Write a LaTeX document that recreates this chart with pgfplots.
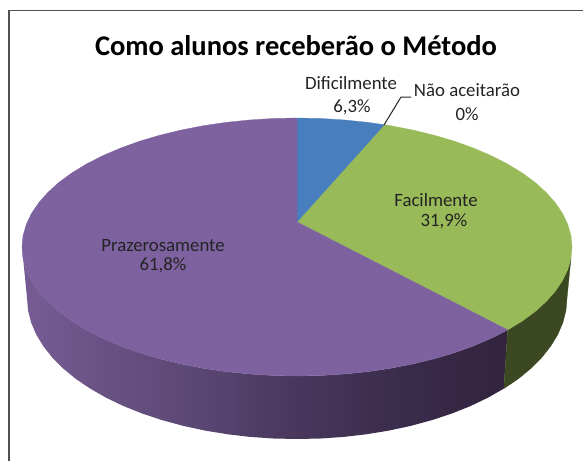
\documentclass[border=0pt]{standalone}
\usepackage{pgfplots}
\pgfplotsset{compat=1.18}
\usepackage{fontspec}
\setmainfont{Carlito}
\definecolor{pietop}{RGB}{126,98,160}
\definecolor{greentop}{RGB}{153,186,88}
\definecolor{bluetop}{RGB}{72,126,190}
\definecolor{greenside}{RGB}{60,72,33}
\definecolor{txt}{RGB}{35,35,35}
\definecolor{framec}{RGB}{80,80,80}
\pgfdeclarehorizontalshading{purplewall}{100bp}{
 rgb(0bp)=(.463,.361,.580);
 rgb(25bp)=(.463,.361,.580);
 rgb(33bp)=(.416,.325,.518);
 rgb(43.3bp)=(.353,.275,.451);
 rgb(53.6bp)=(.282,.212,.361);
 rgb(63.9bp)=(.227,.173,.298);
 rgb(75bp)=(.196,.141,.243);
 rgb(100bp)=(.196,.141,.243)}
\tikzset{lab/.style={text=txt, anchor=base, inner sep=0pt, font=\fontsize{18.8}{22}\selectfont}}
\begin{document}
\begin{tikzpicture}
\begin{axis}[
  scale only axis, width=583pt, height=461pt,
  xmin=0, xmax=583, ymin=0, ymax=461, y dir=reverse,
  hide axis,
]
\path (axis cs:0,0) rectangle (axis cs:583,461);
% frame
\addplot[framec, line width=1.6pt] coordinates {(8.7,461) (8.7,10.5) (583,10.5)};
% side walls
\addplot[draw=none, shading=purplewall] coordinates {
 (507.7,329.9)(491.5,338.2)(473.8,345.8)(454.7,352.7)(434.5,358.7)(413.2,363.9)(391.1,368.2)(368.2,371.6)(344.7,374)(321,375.5)(297,376)
 (273,375.5)(249.3,374)(225.8,371.6)(202.9,368.2)(180.8,363.9)(159.5,358.7)(139.3,352.7)(120.2,345.8)(102.5,338.2)(86.3,329.9)(71.7,321)(58.8,311.5)(47.8,301.5)(38.6,291.1)(31.4,280.4)(26.2,269.4)(23,258.2)(22,247)
 (27,298)(28,310.3)(31.1,322.5)(36.2,334.5)(43.3,346.2)(52.3,357.6)(63.2,368.5)(75.8,378.9)(90.2,388.6)(106.1,397.7)(123.4,406)(142.1,413.5)(162,420.1)(182.9,425.8)(204.7,430.5)(227.1,434.2)(250.1,436.9)(273.5,438.5)(297,439)
 (320.5,438.5)(343.9,436.9)(366.9,434.2)(389.3,430.5)(411.1,425.8)(432,420.1)(451.9,413.5)(470.6,406)(487.9,397.7)(503.8,388.6)
} -- cycle;
\addplot[fill=greenside, draw=greenside, line width=0.3pt] coordinates {
 (507.7,329.9)(522.3,321)(535.2,311.5)(546.2,301.5)(555.4,291.1)(562.6,280.4)(567.8,269.4)(571,258.2)
 (567,298)(566,310.3)(562.9,322.5)(557.8,334.5)(550.7,346.2)(541.7,357.6)(530.8,368.5)(518.2,378.9)(503.8,388.6)
} -- cycle;
% top slices
\addplot[fill=greentop, draw=greentop, line width=0.3pt] coordinates {
 (297,222)(384.3,124.7)(391.1,125.8)(413.2,130.1)(434.5,135.3)(454.7,141.3)(473.8,148.2)(491.5,155.8)(507.7,164.1)(522.3,173)(535.2,182.5)(546.2,192.5)(555.4,202.9)(562.6,213.6)(567.8,224.6)(571,235.8)(572,247)
 (571,258.2)(567.8,269.4)(562.6,280.4)(555.4,291.1)(546.2,301.5)(535.2,311.5)(522.3,321)(507.7,329.9)
} -- cycle;
\addplot[fill=bluetop, draw=bluetop, line width=0.3pt] coordinates {
 (297,222)(297,118)(321,118.5)(344.7,120)(368.2,122.4)(384.3,124.7)
} -- cycle;
\addplot[fill=pietop, draw=pietop, line width=0.3pt] coordinates {
 (297,222)(507.7,329.9)(491.5,338.2)(473.8,345.8)(454.7,352.7)(434.5,358.7)(413.2,363.9)(391.1,368.2)(368.2,371.6)(344.7,374)(321,375.5)(297,376)
 (273,375.5)(249.3,374)(225.8,371.6)(202.9,368.2)(180.8,363.9)(159.5,358.7)(139.3,352.7)(120.2,345.8)(102.5,338.2)(86.3,329.9)(71.7,321)(58.8,311.5)(47.8,301.5)(38.6,291.1)(31.4,280.4)(26.2,269.4)(23,258.2)(22,247)
 (23,235.8)(26.2,224.6)(31.4,213.6)(38.6,202.9)(47.8,192.5)(58.8,182.5)(71.7,173)(86.3,164.1)(102.5,155.8)(120.2,148.2)(139.3,141.3)(159.5,135.3)(180.8,130.1)(202.9,125.8)(225.8,122.4)(249.3,120)(273,118.5)(297,118)
} -- cycle;
% leader line
\addplot[txt, line width=1pt] coordinates {(384,125)(401,97)(411,97)};
% labels
\node[anchor=base, inner sep=0pt, font=\fontsize{28.5}{32}\selectfont\bfseries, text=black] at (axis cs:296,55) {Como alunos receberão o Método};
\node[lab] at (axis cs:351,89.5) {Dificilmente};
\node[lab] at (axis cs:352,112) {6,3\%};
\node[lab] at (axis cs:467,96.7) {Não aceitarão};
\node[lab] at (axis cs:467,120) {0\%};
\node[lab] at (axis cs:436,206) {Facilmente};
\node[lab] at (axis cs:444,226) {31,9\%};
\node[lab] at (axis cs:163,251) {Prazerosamente};
\node[lab] at (axis cs:163,270) {61,8\%};
\end{axis}
\end{tikzpicture}
\end{document}
